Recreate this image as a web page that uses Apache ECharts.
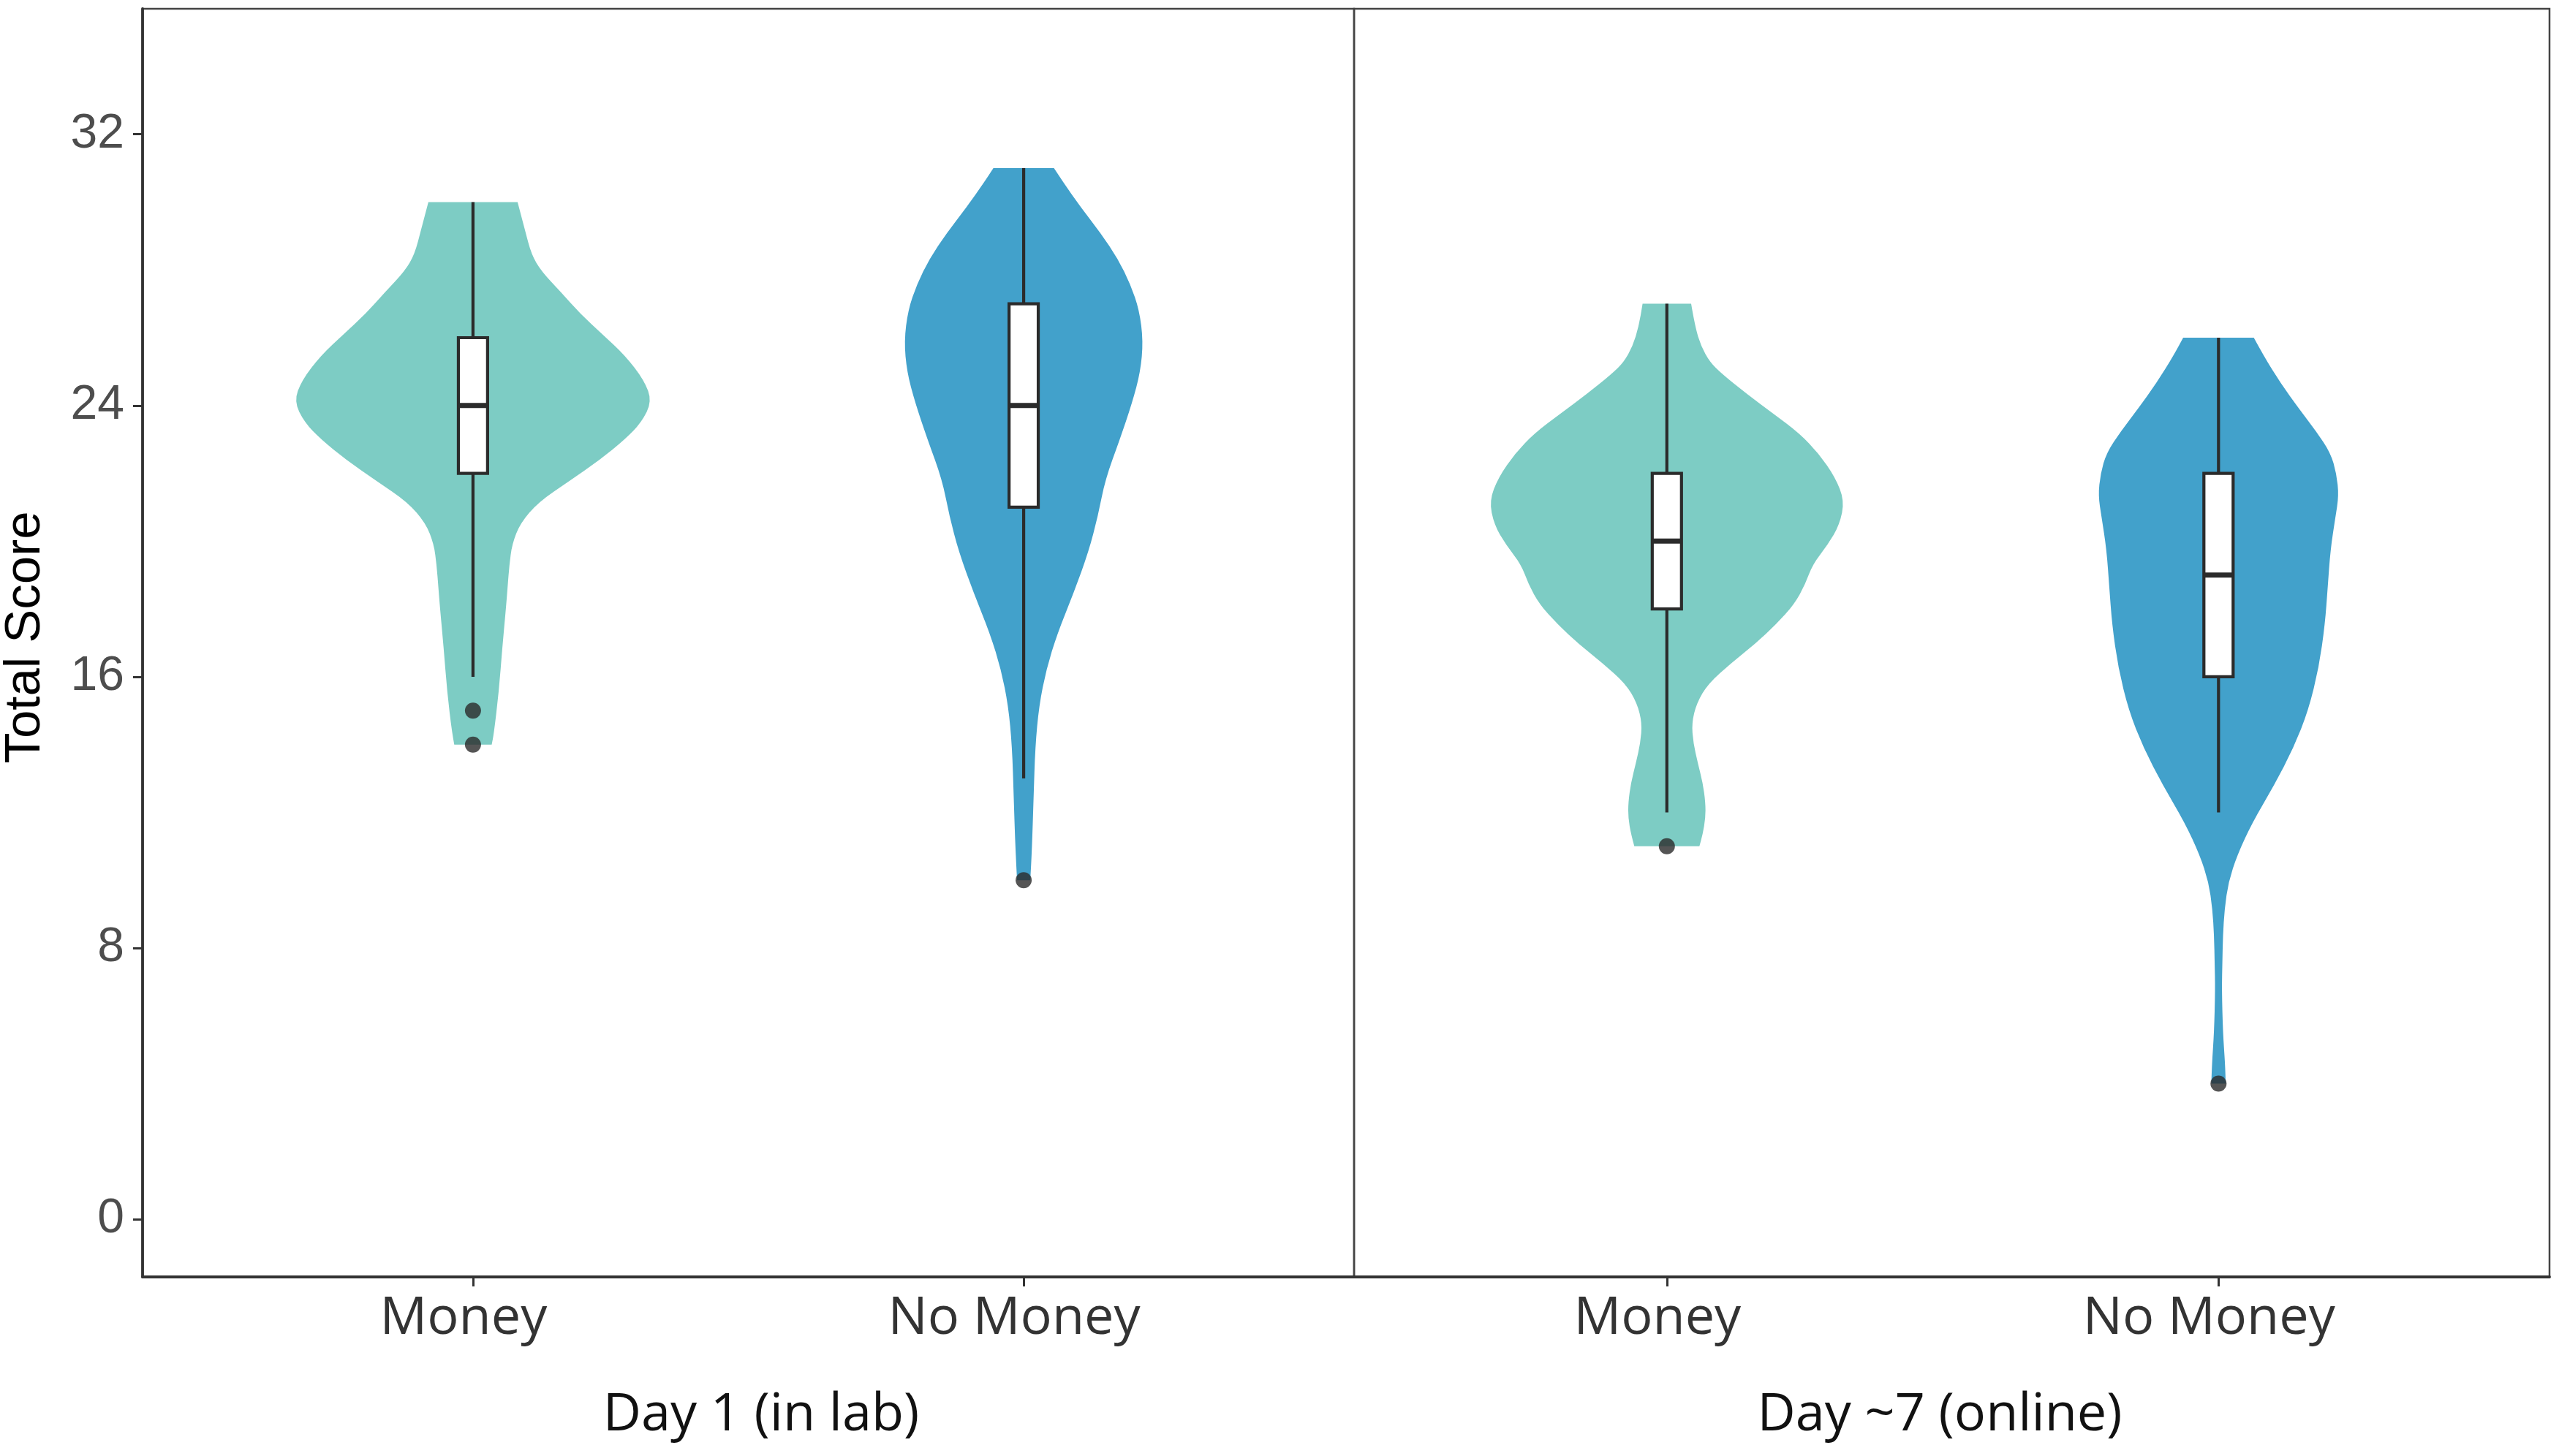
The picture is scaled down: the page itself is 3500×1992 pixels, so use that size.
<!DOCTYPE html>
<html><head><meta charset="utf-8">
<script src="https://cdn.jsdelivr.net/npm/echarts@6/dist/echarts.min.js"></script>
<style>html,body{margin:0;padding:0;background:#fff}#c{width:3500px;height:1992px}</style>
</head><body><div id="c"></div>
<script>
// ---------- data ----------
const panels = ['Day 1 (in lab)', 'Day ~7 (online)'];
const categories = ['Money', 'No Money'];
const yTicks = [0, 8, 16, 24, 32];

// violin outlines: score (top -> bottom) and half-width in category units
const d1MoneyY = [30, 29.2, 28.46, 27.96, 27.34, 26.72, 26.1, 25.48, 24.74, 24.12, 23.5, 23.0, 22.39, 21.77, 21.15, 20.53, 19.91, 19.29, 18.67, 18.05, 16.81, 15.57, 14.33, 14];
const d1MoneyW = [0.081, 0.094, 0.106, 0.124, 0.160, 0.194, 0.235, 0.276, 0.311, 0.325, 0.306, 0.276, 0.230, 0.175, 0.119, 0.086, 0.071, 0.066, 0.063, 0.060, 0.053, 0.047, 0.038, 0.034];

const d1NoMoneyY = [31, 30.6, 29.84, 29.08, 28.33, 27.57, 26.81, 25.9, 24.99, 24.08, 23.02, 21.81, 20.75, 19.69, 18.48, 17.27, 16.21, 15.15, 13.94, 12.42, 10.91, 10];
const d1NoMoneyW = [0.055, 0.071, 0.104, 0.140, 0.171, 0.194, 0.210, 0.217, 0.212, 0.197, 0.175, 0.148, 0.135, 0.118, 0.091, 0.061, 0.041, 0.028, 0.021, 0.018, 0.015, 0.012];

const d7MoneyY = [27, 26.33, 25.75, 25.28, 24.93, 24.35, 23.76, 23.18, 22.59, 21.89, 21.19, 20.48, 19.9, 19.31, 18.73, 18.14, 17.56, 16.97, 16.39, 15.8, 15.22, 14.63, 14.05, 13.46, 12.88, 12.29, 11.83, 11.36, 11];
const d7MoneyW = [0.044, 0.051, 0.062, 0.078, 0.100, 0.144, 0.193, 0.240, 0.275, 0.305, 0.322, 0.313, 0.292, 0.264, 0.251, 0.231, 0.199, 0.160, 0.116, 0.075, 0.054, 0.045, 0.048, 0.056, 0.065, 0.070, 0.070, 0.065, 0.059];

const d7NoMoneyY = [26, 25.46, 24.67, 23.88, 23.24, 22.61, 21.98, 21.34, 20.71, 19.76, 18.65, 17.55, 16.28, 15.01, 13.9, 12.8, 11.69, 10.74, 9.95, 9.15, 8.36, 7.57, 6.78, 5.51, 4.56, 4];
const d7NoMoneyW = [0.064, 0.082, 0.112, 0.147, 0.177, 0.203, 0.214, 0.218, 0.212, 0.203, 0.198, 0.193, 0.182, 0.163, 0.136, 0.101, 0.061, 0.034, 0.018, 0.011, 0.008, 0.007, 0.006, 0.008, 0.012, 0.013];

// box stats: [lower whisker, Q1, median, Q3, upper whisker]
const boxD1Money = [16, 22, 24, 26, 30];
const boxD1NoMoney = [13, 21, 24, 27, 31];
const boxD7Money = [12, 18, 20, 22, 27];
const boxD7NoMoney = [12, 16, 19, 22, 26];

// outliers
const outD1Money = [15, 14];
const outD1NoMoney = [10];
const outD7Money = [11];
const outD7NoMoney = [4];

// ---------- styles ----------
const TEAL = '#7DCCC4';
const BLUE = '#42A1CB';
const INK = '#2b2b2b';
const BOX_W = 0.053;

const panelData = [
  {
    violins: [{x: 0, y: d1MoneyY, w: d1MoneyW, color: TEAL}, {x: 1, y: d1NoMoneyY, w: d1NoMoneyW, color: BLUE}],
    boxes: [[0].concat(boxD1Money), [1].concat(boxD1NoMoney)],
    outliers: outD1Money.map(v => [0, v]).concat(outD1NoMoney.map(v => [1, v]))
  },
  {
    violins: [{x: 0, y: d7MoneyY, w: d7MoneyW, color: TEAL}, {x: 1, y: d7NoMoneyY, w: d7NoMoneyW, color: BLUE}],
    boxes: [[0].concat(boxD7Money), [1].concat(boxD7NoMoney)],
    outliers: outD7Money.map(v => [0, v]).concat(outD7NoMoney.map(v => [1, v]))
  }
];

function smoothSeg(P) {
  let d = '';
  for (let i = 1; i < P.length - 1; i++) {
    const mx = (P[i][0] + P[i + 1][0]) / 2, my = (P[i][1] + P[i + 1][1]) / 2;
    d += ' Q' + P[i][0] + ',' + P[i][1] + ' ' + mx + ',' + my;
  }
  const last = P[P.length - 1];
  d += ' L' + last[0] + ',' + last[1];
  return d;
}

function violinRender(list) {
  return function (params, api) {
    const v = list[params.dataIndex];
    const R = v.y.map((y, i) => api.coord([v.x + v.w[i], y]));
    const L = v.y.map((y, i) => api.coord([v.x - v.w[i], y]));
    const n = R.length;
    let d = 'M' + L[0][0] + ',' + L[0][1] + ' L' + R[0][0] + ',' + R[0][1];
    d += smoothSeg(R);
    d += ' L' + L[n - 1][0] + ',' + L[n - 1][1];
    d += smoothSeg(L.slice().reverse());
    d += ' Z';
    return {type: 'path', shape: {pathData: d}, style: {fill: v.color, stroke: null}};
  };
}

function boxRender(params, api) {
  const x = api.value(0);
  const lo = api.coord([x, api.value(1)]);
  const q1 = api.coord([x, api.value(2)]);
  const md = api.coord([x, api.value(3)]);
  const q3 = api.coord([x, api.value(4)]);
  const hi = api.coord([x, api.value(5)]);
  const half = api.size([BOX_W, 0])[0] / 2;
  const cx = lo[0];
  return {
    type: 'group',
    children: [
      {type: 'line', shape: {x1: cx, y1: lo[1], x2: cx, y2: q1[1]}, style: {stroke: INK, lineWidth: 4.2}},
      {type: 'line', shape: {x1: cx, y1: q3[1], x2: cx, y2: hi[1]}, style: {stroke: INK, lineWidth: 4.2}},
      {type: 'rect', shape: {x: cx - half, y: q3[1], width: 2 * half, height: q1[1] - q3[1]}, style: {fill: '#fff', stroke: INK, lineWidth: 4.2}},
      {type: 'line', shape: {x1: cx - half, y1: md[1], x2: cx + half, y2: md[1]}, style: {stroke: INK, lineWidth: 7}}
    ]
  };
}

const series = [];
panelData.forEach((p, gi) => {
  series.push({
    type: 'custom', xAxisIndex: gi, yAxisIndex: gi, z: 1, silent: true,
    renderItem: violinRender(p.violins),
    data: p.violins.map(v => [v.x, v.y[0], v.y[v.y.length - 1]]),
    encode: {x: 0, y: [1, 2]}
  });
  series.push({
    type: 'custom', xAxisIndex: gi, yAxisIndex: gi, z: 2, silent: true,
    renderItem: boxRender,
    data: p.boxes,
    encode: {x: 0, y: [1, 2, 3, 4, 5]}
  });
  series.push({
    type: 'scatter', xAxisIndex: gi, yAxisIndex: gi, z: 3, silent: true,
    symbol: 'circle', symbolSize: 22,
    itemStyle: {color: INK},
    data: p.outliers
  });
});

function xAxisCfg(gi, min) {
  return {
    gridIndex: gi, type: 'value', min: min, max: 1.6,
    axisLine: {show: true, onZero: false, lineStyle: {color: '#333', width: 3.8}},
    axisTick: {show: true, customValues: [0, 1], length: 13, lineStyle: {color: '#333', width: 3}},
    axisLabel: {customValues: [0, 1], formatter: v => categories[Math.round(v)], fontSize: 72, fontFamily: 'Open Sans', color: '#333', margin: 21, padding: [0, 26, 0, 0]},
    splitLine: {show: false}
  };
}

const option = {
  animation: false,
  backgroundColor: '#fff',
  grid: [
    {left: 195, top: 12, width: 1657, height: 1735, show: true, borderColor: '#444', borderWidth: 2.5},
    {left: 1852, top: 12, width: 1635, height: 1735, show: true, borderColor: '#444', borderWidth: 2.5}
  ],
  xAxis: [xAxisCfg(0, -0.6), xAxisCfg(1, -0.567)],
  yAxis: [
    {
      gridIndex: 0, type: 'value', min: -1.7, max: 35.7,
      axisLine: {show: true, onZero: false, lineStyle: {color: '#333', width: 3.8}},
      axisTick: {show: true, customValues: yTicks, length: 13, lineStyle: {color: '#333', width: 3}},
      axisLabel: {customValues: yTicks, fontSize: 66, fontFamily: 'Liberation Sans', color: '#4d4d4d', margin: 25},
      splitLine: {show: false}
    },
    {
      gridIndex: 1, type: 'value', min: -1.7, max: 35.7,
      axisLine: {show: false, onZero: false}, axisTick: {show: false}, axisLabel: {show: false}, splitLine: {show: false}
    }
  ],
  graphic: [
    {type: 'text', x: 35, y: 872, rotation: Math.PI / 2, style: {text: 'Total Score', font: '69px "Liberation Sans"', fill: '#000', align: 'center', verticalAlign: 'middle'}},
    {type: 'text', x: 1041, y: 1936, style: {text: panels[0], font: '72px "Open Sans"', fill: '#111', align: 'center', verticalAlign: 'middle'}},
    {type: 'text', x: 2653, y: 1936, style: {text: panels[1], font: '72px "Open Sans"', fill: '#111', align: 'center', verticalAlign: 'middle'}}
  ],
  series: series
};

const chart = echarts.init(document.getElementById('c'), null, {renderer: 'canvas'});
chart.setOption(option);
</script>
</body></html>
